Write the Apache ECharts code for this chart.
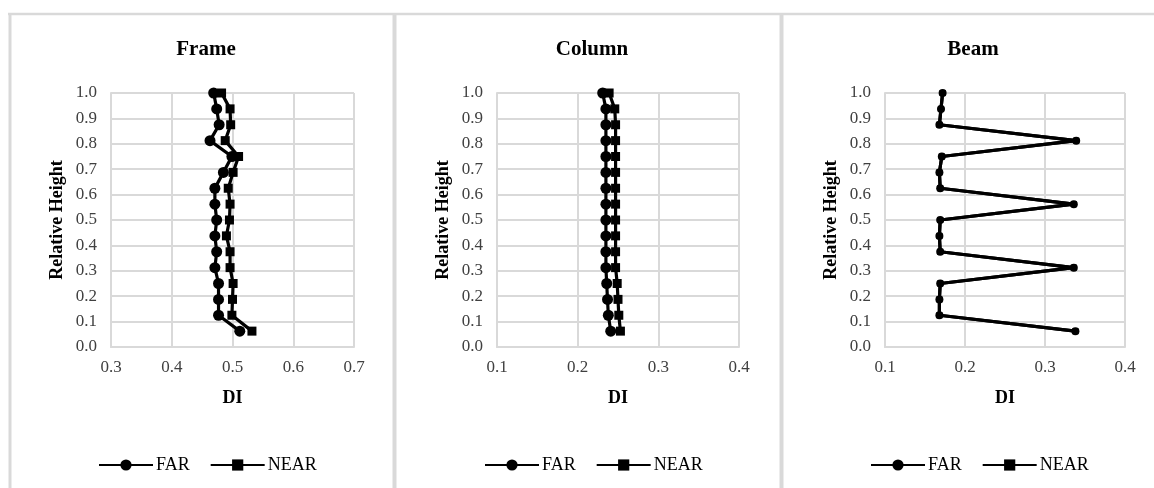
<!DOCTYPE html>
<html><head><meta charset="utf-8">
<script src="https://cdn.jsdelivr.net/npm/echarts@6/dist/echarts.min.js"></script>
<style>html,body{margin:0;padding:0;background:#fff}#c{width:1154px;height:488px}</style>
</head><body><div id="c"></div>
<script>
const heights = [1.0, 0.9375, 0.875, 0.8125, 0.75, 0.6875, 0.625, 0.5625, 0.5, 0.4375, 0.375, 0.3125, 0.25, 0.1875, 0.125, 0.0625];
const frameFar  = [0.469, 0.474, 0.478, 0.463, 0.499, 0.485, 0.471, 0.471, 0.474, 0.471, 0.474, 0.471, 0.477, 0.477, 0.477, 0.512];
const frameNear = [0.482, 0.496, 0.497, 0.488, 0.510, 0.501, 0.493, 0.496, 0.495, 0.490, 0.496, 0.496, 0.501, 0.500, 0.499, 0.532];
const columnFar  = [0.231, 0.235, 0.235, 0.235, 0.235, 0.235, 0.235, 0.235, 0.235, 0.235, 0.235, 0.235, 0.236, 0.237, 0.238, 0.241];
const columnNear = [0.239, 0.246, 0.247, 0.247, 0.247, 0.247, 0.247, 0.247, 0.247, 0.247, 0.247, 0.247, 0.249, 0.250, 0.251, 0.253];
const beamFar  = [0.172, 0.170, 0.168, 0.339, 0.171, 0.168, 0.169, 0.336, 0.169, 0.168, 0.169, 0.336, 0.169, 0.168, 0.168, 0.338];
const beamNear = [0.172, 0.170, 0.168, 0.339, 0.171, 0.168, 0.169, 0.336, 0.169, 0.168, 0.169, 0.336, 0.169, 0.168, 0.168, 0.338];
const panelTitles = ['Frame', 'Column', 'Beam'];
const xRanges = [[0.3, 0.7], [0.1, 0.4], [0.1, 0.4]];
const seriesNames = ['FAR', 'NEAR'];
const xName = 'DI';
const yName = 'Relative Height';

const FONT = '"Liberation Serif","Times New Roman",serif';
const GRAY = '#d9d9d9';
const grids = [
  {left: 111, top: 93, width: 243, height: 254},
  {left: 497, top: 93, width: 242, height: 254},
  {left: 885, top: 93, width: 240, height: 254}
];
const titleCenters = [201, 587, 968];
const legendLefts = [93, 479, 865];
const panelData = [[frameFar, frameNear], [columnFar, columnNear], [beamFar, beamNear]];
const symSizes = [[11, 9], [11, 9], [8, 6]];

const pair = (xs) => xs.map((v, i) => [v, heights[i]]);

const option = {
  animation: false,
  backgroundColor: '#fff',
  title: panelTitles.map((t, i) => ({
    text: t, left: titleCenters[i], top: 34, textAlign: 'center',
    textStyle: {fontFamily: FONT, fontWeight: 'bold', fontSize: 21, color: '#000'}
  })),
  legend: legendLefts.map((l) => ({
    data: seriesNames, left: l, top: 451, itemWidth: 54, itemHeight: 14, itemGap: 20,
    textStyle: {fontFamily: FONT, fontSize: 18, color: '#000', padding: [0, 0, 0, -2]}
  })),
  grid: grids,
  xAxis: xRanges.map((r, i) => ({
    type: 'value', gridIndex: i, min: r[0], max: r[1], interval: 0.1,
    name: xName, nameLocation: 'middle', nameGap: 42,
    nameTextStyle: {fontFamily: FONT, fontWeight: 'bold', fontSize: 18, color: '#000'},
    axisLine: {show: true, lineStyle: {color: GRAY, width: 2}},
    axisTick: {show: false},
    axisLabel: {fontFamily: FONT, fontSize: 17, color: '#404040', margin: 12, formatter: (v) => v.toFixed(1)},
    splitLine: {show: true, lineStyle: {color: GRAY, width: 2}}
  })),
  yAxis: [0, 1, 2].map((i) => ({
    type: 'value', gridIndex: i, min: 0, max: 1, interval: 0.1,
    name: yName, nameLocation: 'middle', nameGap: 45, nameRotate: 90,
    nameTextStyle: {fontFamily: FONT, fontWeight: 'bold', fontSize: 18, color: '#000'},
    axisLine: {show: true, lineStyle: {color: GRAY, width: 2}},
    axisTick: {show: false},
    axisLabel: {fontFamily: FONT, fontSize: 17, color: '#404040', margin: 14, formatter: (v) => v.toFixed(1)},
    splitLine: {show: true, lineStyle: {color: GRAY, width: 2}}
  })),
  series: [],
  graphic: [
    {type: 'line', shape: {x1: 8, y1: 14, x2: 1154, y2: 14}, style: {stroke: GRAY, lineWidth: 2.5}, silent: true},
    {type: 'line', shape: {x1: 10, y1: 13, x2: 10, y2: 488}, style: {stroke: GRAY, lineWidth: 3}, silent: true},
    {type: 'line', shape: {x1: 394.5, y1: 13, x2: 394.5, y2: 488}, style: {stroke: GRAY, lineWidth: 4}, silent: true},
    {type: 'line', shape: {x1: 781.5, y1: 13, x2: 781.5, y2: 488}, style: {stroke: GRAY, lineWidth: 4}, silent: true}
  ]
};
panelData.forEach((pd, i) => {
  pd.forEach((xs, j) => {
    option.series.push({
      name: seriesNames[j], type: 'line', xAxisIndex: i, yAxisIndex: i,
      data: pair(xs), symbol: j === 0 ? 'circle' : 'rect', symbolSize: symSizes[i][j],
      showSymbol: true, z: j === 0 ? 3 : 2,
      lineStyle: {color: '#000', width: 3.2}, itemStyle: {color: '#000', borderWidth: 0},
      emphasis: {disabled: true}
    });
  });
});
echarts.init(document.getElementById('c'), null, {renderer: 'canvas'}).setOption(option);
</script></body></html>
